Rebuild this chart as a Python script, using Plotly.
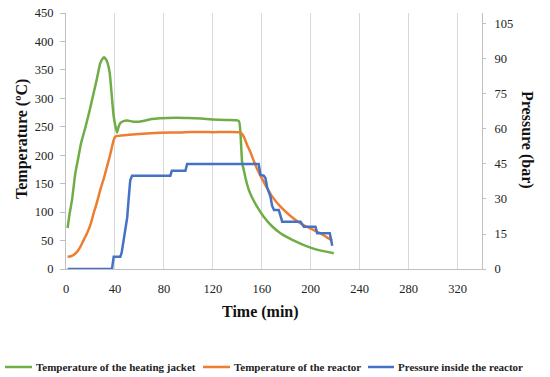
import plotly.graph_objects as go

# Temperature of the heating jacket
t_jacket = [1.3, 3, 4.9, 7.6, 10, 11.7, 13, 16, 20, 25, 28, 30, 31, 32.5, 34, 35.7, 37, 39, 41.7, 43, 44.5, 47, 50, 55, 60, 65, 70, 77, 90, 100, 110, 120, 130, 141.2, 142.6, 144, 145.3, 146.7, 149.4, 152, 156, 161.6, 168, 175.3, 185, 194.4, 205, 218.9]
T_jacket = [72, 98, 121, 168, 195, 215, 227, 250, 285, 332, 362, 370, 372, 369, 362, 345, 315, 268, 240, 250, 257, 260, 261, 259, 259, 261, 263.5, 265, 266, 265.5, 264.5, 263, 262, 260.5, 238, 186, 174, 160, 139, 126, 110, 92, 76, 62.7, 51, 42, 34, 27.6]

# Temperature of the reactor
t_reactor = [1.3, 4, 6.2, 9, 11.7, 14, 17.2, 20, 22.6, 25, 28, 31, 33.5, 36, 39, 40.3, 41.7, 45, 50, 60, 77, 93.5, 101.7, 120, 142.6, 145.3, 148, 150.8, 153.5, 156.2, 161.6, 168, 175.3, 183, 191.7, 200, 208, 217.6]
T_reactor = [21.6, 22.5, 24.6, 30, 39, 49, 62.7, 78, 98, 115, 139, 160, 180, 200, 227, 232.6, 234, 234.5, 235.5, 237.5, 239.6, 240, 241, 240.5, 240, 232.6, 218, 205, 190, 176, 153, 129, 109.5, 94, 80, 71, 62.7, 49.8]

# Pressure inside the reactor (bar)
t_pressure = [1.3, 37.6, 39, 44.4, 45.5, 47, 50, 51.2, 52.5, 54, 85.3, 86.5, 97.6, 99, 157.5, 159, 161.6, 163, 164.4, 167.1, 168.5, 170, 173.9, 176.7, 191.7, 194.4, 203.9, 205.3, 215.6, 217.6]
P_pressure = [0, 0, 5.3, 5.3, 7, 12.4, 22, 30, 38, 40, 40, 42.1, 42.1, 45, 45, 40.3, 40, 39, 35, 31, 27, 25.3, 25.3, 20.3, 20.3, 18.1, 18.1, 15.3, 15.3, 10]

x_ticks = [0, 40, 80, 120, 160, 200, 240, 280, 320]
y_ticks = [0, 50, 100, 150, 200, 250, 300, 350, 400, 450]
y2_ticks = [0, 15, 30, 45, 60, 75, 90, 105]

names = ["Temperature of the heating jacket", "Temperature of the reactor", "Pressure inside the reactor"]
colors = ["#70AD47", "#ED7D31", "#4472C4"]

FONT = "Liberation Serif"
W, H = 550, 377
ML, MR, MT, MB = 66, 68, 13, 108
PW, PH = W - ML - MR, H - MT - MB


def px(xp):
    return (xp - ML) / PW


def py(yp):
    return (H - MB - yp) / PH


fig = go.Figure()
fig.add_trace(go.Scatter(x=t_jacket, y=T_jacket, mode="lines", name=names[0],
                         line=dict(color=colors[0], width=2.5, shape="spline", smoothing=0.5)))
fig.add_trace(go.Scatter(x=t_reactor, y=T_reactor, mode="lines", name=names[1],
                         line=dict(color=colors[1], width=2.5, shape="spline", smoothing=0.5)))
fig.add_trace(go.Scatter(x=t_pressure, y=P_pressure, mode="lines", name=names[2], yaxis="y2",
                         line=dict(color=colors[2], width=2.5)))

# custom legend (line sample + label)
legend_pos = [(5, 32, 34), (203, 230, 232), (368, 394, 396)]
shapes, annotations = [], []
for (x0, x1, xt), name, col in zip(legend_pos, names, colors):
    shapes.append(dict(type="line", xref="paper", yref="paper", x0=px(x0), x1=px(x1),
                       y0=py(367), y1=py(367), line=dict(color=col, width=2.5)))
    annotations.append(dict(text="<b>" + name + "</b>", xref="paper", yref="paper", x=px(xt), y=py(367),
                            xanchor="left", yanchor="middle", showarrow=False,
                            font=dict(family=FONT, size=11, color="#222")))

annotations += [
    dict(text="<b>Time (min)</b>", xref="paper", yref="paper", x=px(260), y=py(312),
         xanchor="center", yanchor="middle", showarrow=False, font=dict(family=FONT, size=16, color="#111")),
    dict(text="<b>Temperature (ºC)</b>", xref="paper", yref="paper", x=px(22), y=py(139),
         xanchor="center", yanchor="middle", textangle=-90, showarrow=False,
         font=dict(family=FONT, size=16, color="#111")),
    dict(text="<b>Pressure (bar)</b>", xref="paper", yref="paper", x=px(527), y=py(140),
         xanchor="center", yanchor="middle", textangle=90, showarrow=False,
         font=dict(family=FONT, size=16, color="#111")),
]

fig.update_layout(
    width=W, height=H,
    margin=dict(l=ML, r=MR, t=MT, b=MB, autoexpand=False),
    paper_bgcolor="white", plot_bgcolor="white",
    font=dict(family=FONT, size=12, color="#222"),
    showlegend=False,
    xaxis=dict(range=[0, 340], tickvals=x_ticks, showgrid=True, gridcolor="#d9d9d9", gridwidth=1,
               showline=True, linecolor="#bfbfbf", linewidth=1, ticks="", zeroline=False,
               ticklabelstandoff=8, tickfont=dict(size=12.5), automargin=False),
    yaxis=dict(range=[0, 450], tickvals=y_ticks, showgrid=False, showline=True, linecolor="#bfbfbf",
               linewidth=1, ticks="outside", ticklen=5, tickcolor="#bfbfbf", zeroline=False,
               ticklabelstandoff=4, tickfont=dict(size=12.5), automargin=False),
    yaxis2=dict(range=[0, 109.7], tickvals=y2_ticks, overlaying="y", side="right", showgrid=False,
                showline=True, linecolor="#bfbfbf", linewidth=1, ticks="outside", ticklen=3,
                tickcolor="#bfbfbf", zeroline=False, ticklabelstandoff=6, tickfont=dict(size=12.5),
                automargin=False),
    shapes=shapes,
    annotations=annotations,
)

fig.write_html("out.html", config={"displayModeBar": False},
               post_script="document.body.style.margin='0';document.body.style.overflow='hidden';")
